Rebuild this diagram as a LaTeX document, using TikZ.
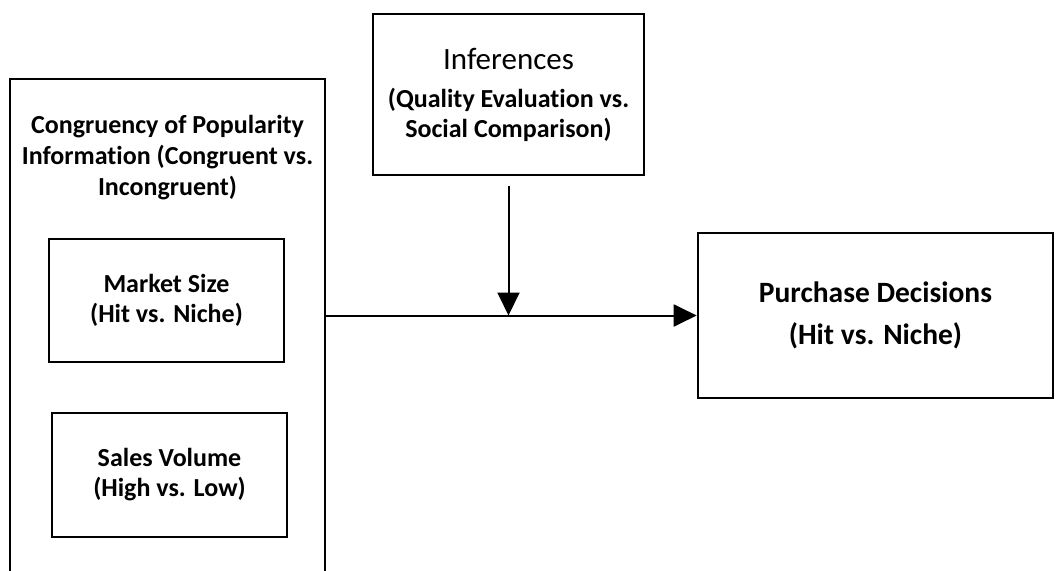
\documentclass[tikz,border=0pt]{standalone}
\usepackage{fontspec}
\setmainfont[Ligatures=NoCommon]{Carlito}
\usetikzlibrary{arrows.meta}
\begin{document}
\begin{tikzpicture}[x=1pt, y=-1pt,
  box/.style = {draw, line width=2.6pt, inner sep=0pt, align=center, font=\bfseries\fontsize{26}{30}\selectfont},
  arrow/.style = {line width=2pt, -{Triangle[width=22pt,length=23pt]}}]
\useasboundingbox (0,0) rectangle (1056,570);
\clip (0,0) rectangle (1056,570);
\node[box, minimum width=315pt, minimum height=530pt] (congr) at (167.5,344) {};
\node[align=center, font=\bfseries\fontsize{26}{31}\selectfont] (congrtext) at (167.5,158) {Congruency of Popularity\\Information (Congruent vs.\\Incongruent)};
\node[box, minimum width=235pt, minimum height=123pt] (market) at (166.5,300.5) {Market Size\\(Hit vs. Niche)};
\node[box, minimum width=235pt, minimum height=124pt] (sales) at (169.5,475) {Sales Volume\\(High vs. Low)};
\node[box, minimum width=271pt, minimum height=161pt] (infer) at (508.5,94.5) {{\mdseries\fontsize{31}{30}\selectfont Inferences}\\[8pt](Quality Evaluation vs.\\Social Comparison)};
\node[box, minimum width=355pt, minimum height=165pt, font=\bfseries\fontsize{29.5}{42}\selectfont] (purchase) at (875.5,315.5) {Purchase Decisions\\(Hit vs. Niche)};
\coordinate (meet) at (infer.south |- purchase.west);
\draw[arrow] (congr.east |- purchase.west) -- (purchase.west);
\draw[arrow, shorten <=10pt] (infer.south) -- (meet);
\end{tikzpicture}
\end{document}
